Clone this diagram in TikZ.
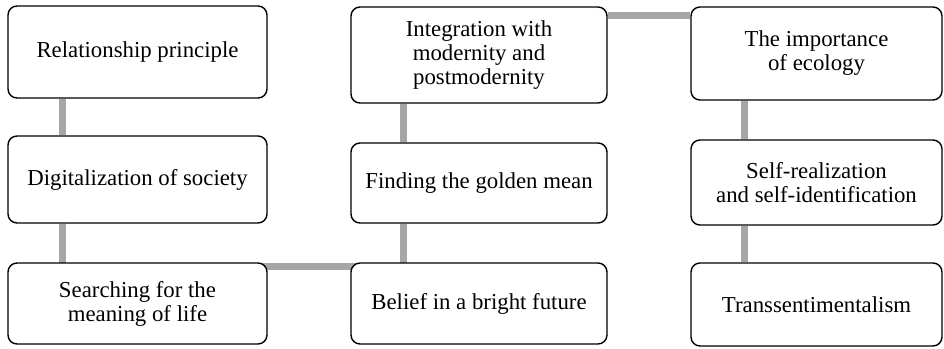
\documentclass[tikz,border=0pt]{standalone}
\usepackage{fontspec}
\setmainfont{Liberation Serif}
\usetikzlibrary{backgrounds}
\definecolor{conngray}{RGB}{166,166,166}
\tikzset{
  box/.style={draw=black, line width=1.4pt, rounded corners=9pt, fill=white,
    inner sep=0pt, align=center, font=\rmfamily\fontsize{22.8}{24}\selectfont},
  conn/.style={draw=conngray, line width=7pt}
}
\begin{document}
\begin{tikzpicture}[x=1pt,y=-1pt]
\useasboundingbox (0,0) rectangle (944,348);
% column A
\node[box, minimum width=259pt, minimum height=92pt] (A1) at (137.5,52) {Relationship principle};
\node[box, minimum width=259pt, minimum height=87pt] (A2) at (137.5,179.5) {Digitalization of society};
\node[box, minimum width=259pt, minimum height=81pt] (A3) at (137.5,303.5) {Searching for the\\meaning of life};
% column B
\node[box, minimum width=256pt, minimum height=96pt] (B1) at (479,55) {Integration with\\modernity and\\postmodernity};
\node[box, minimum width=256pt, minimum height=80pt] (B2) at (479,183) {Finding the golden mean};
\node[box, minimum width=256pt, minimum height=81pt] (B3) at (479,303.5) {Belief in a bright future};
% column C
\node[box, minimum width=251pt, minimum height=93pt] (C1) at (816.5,53.5) {The importance\\of ecology};
\node[box, minimum width=251pt, minimum height=85pt] (C2) at (816.5,182.5) {Self-realization\\and self-identification};
\node[box, minimum width=251pt, minimum height=83pt] (C3) at (816.5,304.5) {Transsentimentalism};
% guide coordinates
\coordinate (colA) at (62,0);
\coordinate (colB) at (403,0);
\coordinate (colC) at (744,0);
\coordinate (low) at (0,266);
\coordinate (high) at (0,15);
\begin{scope}[on background layer]
\draw[conn] (A1.south -| colA) -- (A2.north -| colA);
\draw[conn] (A2.south -| colA) -- (colA |- low) -- (colB |- low) -- (B2.south -| colB);
\draw[conn] (B2.north -| colB) -- (B1.south -| colB);
\draw[conn] (B1.east |- high) -- (C1.west |- high);
\draw[conn] (C1.south -| colC) -- (C2.north -| colC);
\draw[conn] (C2.south -| colC) -- (C3.north -| colC);
\end{scope}
\end{tikzpicture}
\end{document}
